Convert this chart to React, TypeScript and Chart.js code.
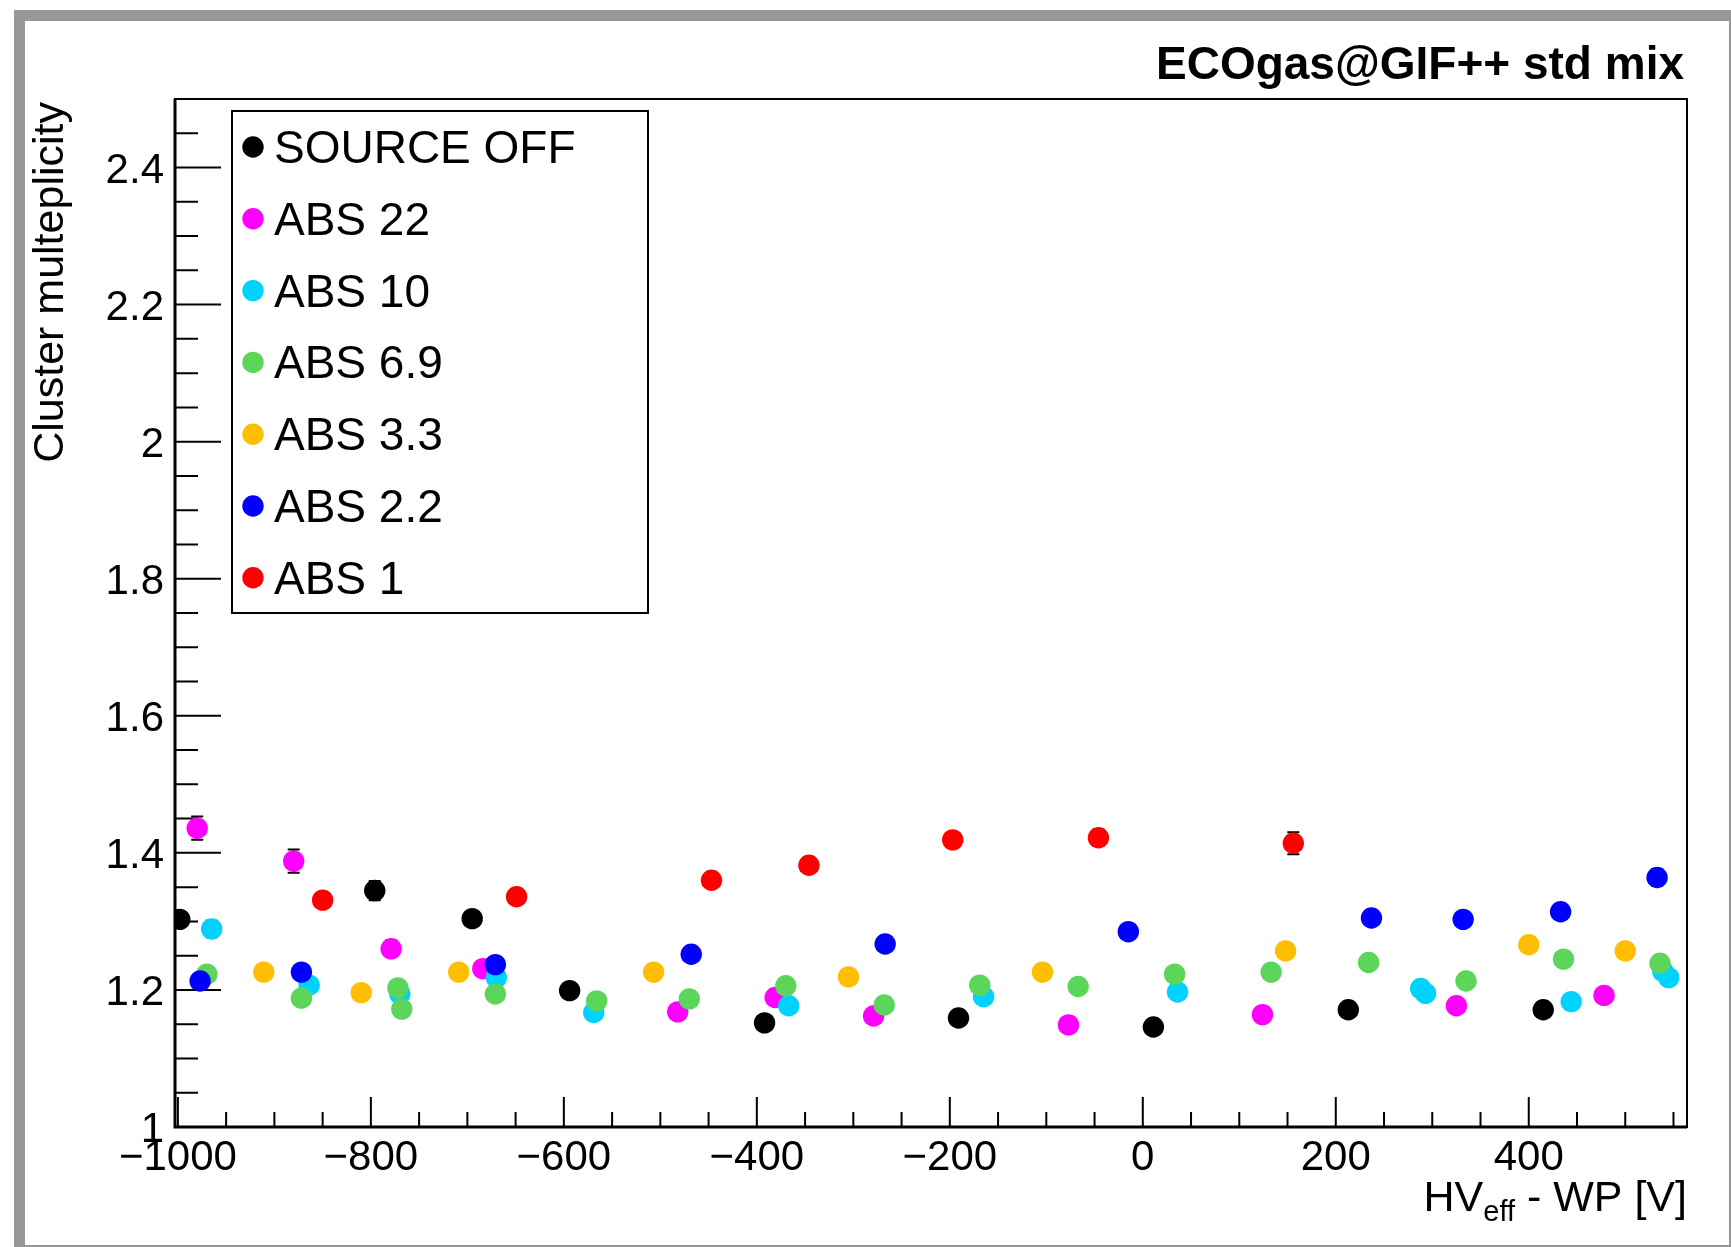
import React, { useEffect, useRef } from 'react';
import { Chart, registerables } from 'chart.js';

Chart.register(...registerables);

const W = 1731;
const H = 1247;
const FONT = "'Liberation Sans', Arial, Helvetica, sans-serif";

const chartTitle = 'ECOgas@GIF++ std mix';
const yTitle = 'Cluster multeplicity';

const seriesNames = ['SOURCE OFF', 'ABS 22', 'ABS 10', 'ABS 6.9', 'ABS 3.3', 'ABS 2.2', 'ABS 1'];
const seriesColors = ['#000000', '#ff00ff', '#00d2ff', '#5bd65b', '#ffbe00', '#0000ff', '#ff0000'];

const sourceOffX = [-998, -796, -695, -594, -392, -191, 11, 213, 415];
const sourceOffY = [1.303, 1.345, 1.304, 1.199, 1.152, 1.159, 1.146, 1.171, 1.171];
const sourceOffErr = [0.01, 0.014, 0.01, 0.01, 0.01, 0.01, 0.01, 0.01, 0.01];

const abs22X = [-980, -880, -779, -684, -482, -381, -279, -77, 124, 325, 478];
const abs22Y = [1.436, 1.388, 1.26, 1.231, 1.168, 1.189, 1.162, 1.149, 1.164, 1.177, 1.192];
const abs22Err = [0.017, 0.017, 0.012, 0.01, 0.01, 0.01, 0.01, 0.01, 0.01, 0.01, 0.01];

const abs10X = [-965, -864, -770, -670, -569, -367, -165, 36, 288, 293, 444, 539, 545];
const abs10Y = [1.289, 1.207, 1.194, 1.218, 1.167, 1.177, 1.19, 1.197, 1.202, 1.195, 1.183, 1.227, 1.218];
const abs10Err = [0.012, 0.01, 0.01, 0.01, 0.01, 0.01, 0.01, 0.01, 0.01, 0.01, 0.01, 0.01, 0.01];

const abs69X = [-970, -872, -772, -768, -671, -566, -470, -370, -268, -169, -67, 33, 133, 234, 335, 436, 536];
const abs69Y = [1.223, 1.188, 1.203, 1.172, 1.194, 1.184, 1.187, 1.206, 1.178, 1.207, 1.205, 1.223, 1.226, 1.24, 1.213, 1.245, 1.239];
const abs69Err = [0.01, 0.01, 0.01, 0.01, 0.01, 0.01, 0.01, 0.01, 0.01, 0.01, 0.01, 0.01, 0.01, 0.01, 0.01, 0.01, 0.01];

const abs33X = [-911, -810, -709, -507, -305, -104, 148, 400, 500];
const abs33Y = [1.226, 1.196, 1.226, 1.226, 1.219, 1.226, 1.257, 1.266, 1.257];
const abs33Err = [0.01, 0.01, 0.01, 0.01, 0.01, 0.01, 0.01, 0.01, 0.01];

const abs22bX = [-977, -872, -671, -468, -267, -15, 237, 332, 433, 533];
const abs22bY = [1.213, 1.226, 1.237, 1.252, 1.267, 1.285, 1.305, 1.303, 1.314, 1.364];
const abs22bErr = [0.01, 0.01, 0.01, 0.01, 0.01, 0.01, 0.01, 0.01, 0.01, 0.012];

const abs1X = [-850, -649, -447, -346, -197, -46, 156];
const abs1Y = [1.331, 1.336, 1.36, 1.382, 1.419, 1.422, 1.414];
const abs1Err = [0.01, 0.01, 0.01, 0.01, 0.011, 0.012, 0.016];

const seriesX = [sourceOffX, abs22X, abs10X, abs69X, abs33X, abs22bX, abs1X];
const seriesY = [sourceOffY, abs22Y, abs10Y, abs69Y, abs33Y, abs22bY, abs1Y];
const seriesErr = [sourceOffErr, abs22Err, abs10Err, abs69Err, abs33Err, abs22bErr, abs1Err];

const xMin = -1003;
const xMax = 564;
const yMin = 1;
const yMax = 2.5;

const xMajorTicks = [-1000, -800, -600, -400, -200, 0, 200, 400];
const xTickLabels = ['\u22121000', '\u2212800', '\u2212600', '\u2212400', '\u2212200', '0', '200', '400'];
const xMinorTicks = [-950, -900, -850, -750, -700, -650, -550, -500, -450, -350, -300, -250, -150, -100, -50,
  50, 100, 150, 250, 300, 350, 450, 500, 550];
const yMajorTicks = [1, 1.2, 1.4, 1.6, 1.8, 2, 2.2, 2.4];
const yTickLabels = ['1', '1.2', '1.4', '1.6', '1.8', '2', '2.2', '2.4'];
const yMinorTicks = [1.05, 1.1, 1.15, 1.25, 1.3, 1.35, 1.45, 1.5, 1.55, 1.65, 1.7, 1.75, 1.85, 1.9, 1.95,
  2.05, 2.1, 2.15, 2.25, 2.3, 2.35, 2.45];

const MARKER_R = 10.7;

const rootPlugin = {
  id: 'rootStyle',
  beforeDraw(chart: any) {
    const ctx = chart.ctx;
    ctx.save();
    ctx.fillStyle = '#ffffff';
    ctx.fillRect(0, 0, W, H);
    ctx.fillStyle = '#979797';
    ctx.fillRect(14, 10, W - 14, 11);
    ctx.fillRect(14, 10, 11, H - 10);
    ctx.fillRect(14, H - 2, W - 14, 2);
    ctx.fillRect(W - 2, 10, 2, H - 10);

    ctx.fillStyle = '#000';
    ctx.font = `bold 46px ${FONT}`;
    ctx.textAlign = 'right';
    ctx.textBaseline = 'alphabetic';
    ctx.fillText(chartTitle, 1684, 79);
    ctx.restore();
  },
  beforeDatasetsDraw(chart: any) {
    const ctx = chart.ctx;
    const xs = chart.scales.x;
    const ys = chart.scales.y;
    const a = chart.chartArea;
    ctx.save();
    ctx.strokeStyle = '#000';
    ctx.fillStyle = '#000';
    ctx.lineWidth = 2;
    ctx.strokeRect(a.left, a.top, a.right - a.left, a.bottom - a.top);
    ctx.lineWidth = 3;
    ctx.beginPath();
    ctx.moveTo(a.left, a.top);
    ctx.lineTo(a.left, a.bottom);
    ctx.lineTo(a.right, a.bottom);
    ctx.stroke();

    ctx.lineWidth = 2;
    ctx.beginPath();
    xMajorTicks.forEach((v) => {
      const px = xs.getPixelForValue(v);
      ctx.moveTo(px, a.bottom);
      ctx.lineTo(px, a.bottom - 30);
    });
    xMinorTicks.forEach((v) => {
      const px = xs.getPixelForValue(v);
      ctx.moveTo(px, a.bottom);
      ctx.lineTo(px, a.bottom - 15);
    });
    yMajorTicks.forEach((v) => {
      const py = ys.getPixelForValue(v);
      ctx.moveTo(a.left, py);
      ctx.lineTo(a.left + 46, py);
    });
    yMinorTicks.forEach((v) => {
      const py = ys.getPixelForValue(v);
      ctx.moveTo(a.left, py);
      ctx.lineTo(a.left + 23, py);
    });
    ctx.stroke();

    ctx.font = `42px ${FONT}`;
    ctx.textBaseline = 'alphabetic';
    ctx.textAlign = 'center';
    xMajorTicks.forEach((v, i) => {
      ctx.fillText(xTickLabels[i], xs.getPixelForValue(v), a.bottom + 43);
    });
    ctx.textAlign = 'right';
    yMajorTicks.forEach((v, i) => {
      ctx.fillText(yTickLabels[i], a.left - 11, ys.getPixelForValue(v) + 15);
    });

    const mainFont = `43px ${FONT}`;
    const subFont = `29px ${FONT}`;
    const p1 = 'HV';
    const sub = 'eff';
    const p2 = ' - WP [V]';
    ctx.font = mainFont;
    const w1 = ctx.measureText(p1).width;
    const w2 = ctx.measureText(p2).width;
    ctx.font = subFont;
    const ws = ctx.measureText(sub).width;
    const base = 1211;
    const x0 = a.right - (w1 + ws + w2);
    ctx.textAlign = 'left';
    ctx.font = mainFont;
    ctx.fillText(p1, x0, base);
    ctx.font = subFont;
    ctx.fillText(sub, x0 + w1, base + 10);
    ctx.font = mainFont;
    ctx.fillText(p2, x0 + w1 + ws, base);

    ctx.save();
    ctx.translate(63, a.top + 3);
    ctx.rotate(-Math.PI / 2);
    ctx.textAlign = 'right';
    ctx.font = `43px ${FONT}`;
    ctx.fillText(yTitle, 0, 0);
    ctx.restore();

    ctx.lineWidth = 2;
    ctx.strokeStyle = '#000';
    ctx.beginPath();
    seriesX.forEach((xsArr, si) => {
      xsArr.forEach((xv, i) => {
        const px = xs.getPixelForValue(xv);
        const yv = seriesY[si][i];
        const e = seriesErr[si][i];
        const pTop = ys.getPixelForValue(yv + e);
        const pBot = ys.getPixelForValue(yv - e);
        ctx.moveTo(px, pTop);
        ctx.lineTo(px, pBot);
        ctx.moveTo(px - 6, pTop);
        ctx.lineTo(px + 6, pTop);
        ctx.moveTo(px - 6, pBot);
        ctx.lineTo(px + 6, pBot);
      });
    });
    ctx.stroke();
    ctx.restore();
  },
  afterDatasetsDraw(chart: any) {
    const ctx = chart.ctx;
    ctx.save();
    const bx = 232, by = 111, bw = 416, bh = 502;
    ctx.fillStyle = '#fff';
    ctx.fillRect(bx, by, bw, bh);
    ctx.strokeStyle = '#000';
    ctx.lineWidth = 2;
    ctx.strokeRect(bx, by, bw, bh);
    const step = 71.8;
    ctx.font = `46px ${FONT}`;
    ctx.textAlign = 'left';
    ctx.textBaseline = 'alphabetic';
    seriesNames.forEach((name, i) => {
      const cy = 147 + i * step;
      ctx.fillStyle = seriesColors[i];
      ctx.beginPath();
      ctx.arc(253, cy, MARKER_R, 0, Math.PI * 2);
      ctx.fill();
      ctx.fillStyle = '#000';
      ctx.fillText(name, 274, cy + 16);
    });
    ctx.restore();
  },
};

export default function App() {
  const ref = useRef<HTMLCanvasElement | null>(null);
  useEffect(() => {
    if (!ref.current) return;
    const datasets = seriesNames.map((name, si) => ({
      label: name,
      data: seriesX[si].map((x, i) => ({ x, y: seriesY[si][i] })),
      backgroundColor: seriesColors[si],
      borderColor: seriesColors[si],
      pointBackgroundColor: seriesColors[si],
      pointBorderWidth: 0,
      pointRadius: MARKER_R,
      pointHoverRadius: MARKER_R,
      showLine: false,
      order: seriesNames.length - 1 - si,
    }));
    const chart = new Chart(ref.current, {
      type: 'scatter',
      data: { datasets },
      options: {
        animation: false,
        responsive: false,
        maintainAspectRatio: false,
        devicePixelRatio: 1,
        events: [],
        layout: { padding: { left: 175, top: 99, right: W - 1687, bottom: H - 1127 } },
        scales: {
          x: { type: 'linear', min: xMin, max: xMax, display: false },
          y: { type: 'linear', min: yMin, max: yMax, display: false },
        },
        plugins: { legend: { display: false }, tooltip: { enabled: false } },
      },
      plugins: [rootPlugin],
    } as any);
    return () => chart.destroy();
  }, []);
  return (
    <div style={{ position: 'absolute', left: 0, top: 0, width: W, height: H, background: '#fff' }}>
      <canvas ref={ref} width={W} height={H} style={{ width: W, height: H, display: 'block' }} />
    </div>
  );
}
